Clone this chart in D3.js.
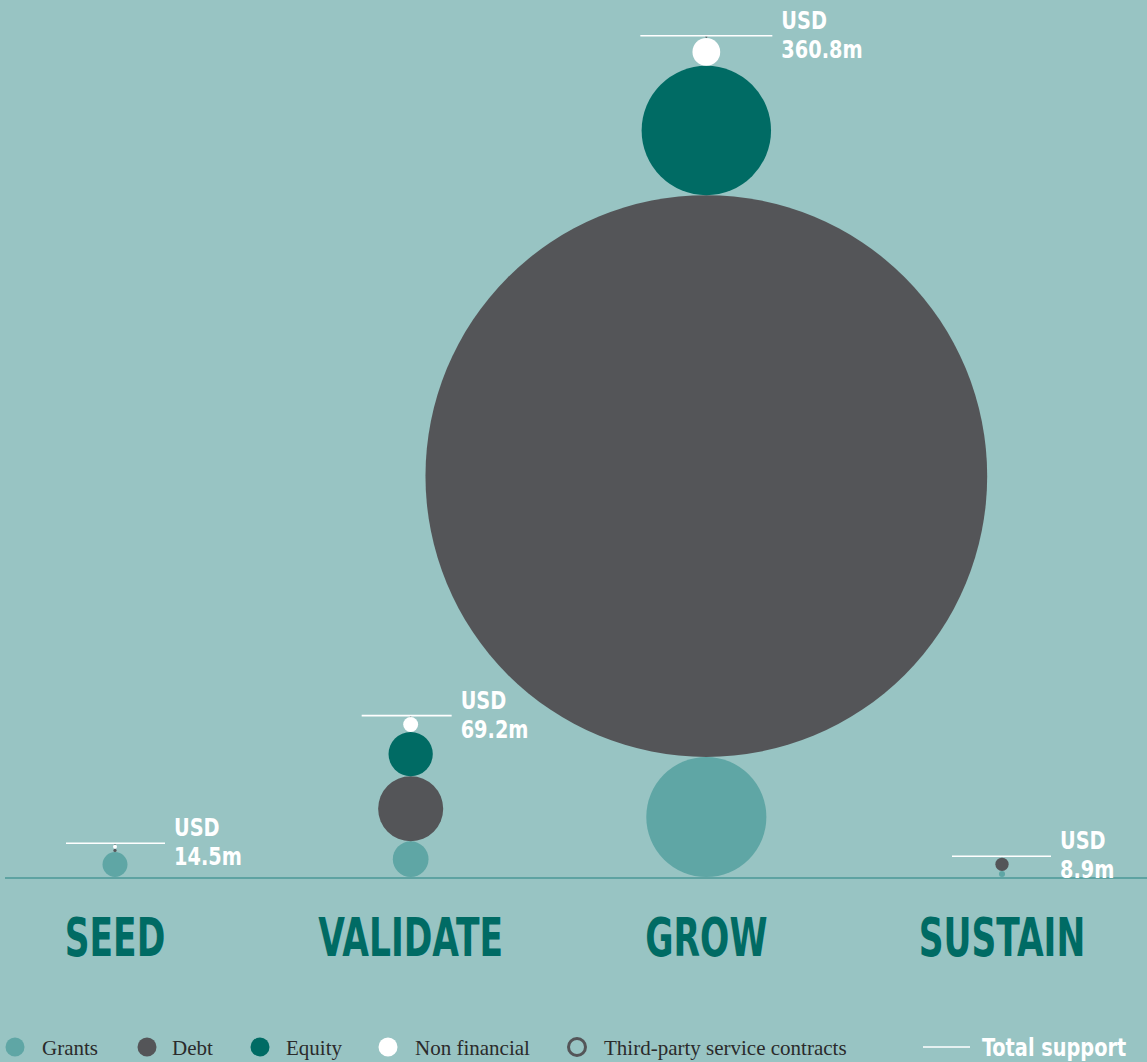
<!DOCTYPE html>
<html>
<head>
<meta charset="utf-8">
<script src="https://cdn.jsdelivr.net/npm/d3@7/dist/d3.min.js"></script>
<style>
  html, body { margin: 0; padding: 0; background: #98c4c3; }
  svg { display: block; }
</style>
</head>
<body>
<svg id="chart" width="1147" height="1062"></svg>
<script>
// Support by stage, USD millions
const stages = ["SEED", "VALIDATE", "GROW", "SUSTAIN"];
const totals = [14.5, 69.2, 360.8, 8.9];
const grants = [10.7, 15.3, 51.5, 2.6];
const debt = [1.4, 27.9, 240.9, 5.7];
const equity = [0, 19.0, 55.5, 0];
const nonFinancial = [1.7, 6.4, 11.9, 0.2];
const thirdParty = [0.7, 0.6, 1.0, 0.4];

const seriesKeys = ["Grants", "Debt", "Equity", "Non financial", "Third-party service contracts"];
const seriesValues = [grants, debt, equity, nonFinancial, thirdParty];
const totalLabel = "Total support";

// Styling
const colors = {
  "Grants": "#5fa6a5",
  "Debt": "#545558",
  "Equity": "#006b64",
  "Non financial": "#ffffff",
  "Third-party service contracts": "#545558"
};
const bg = "#98c4c3";
const condensed = "'Liberation Sans Narrow', 'Arial Narrow', 'DejaVu Sans Condensed', 'Roboto Condensed', sans-serif";
const serif = "'Liberation Serif', 'DejaVu Serif', serif";
const labelSqueeze = 0.86;  // horizontal compression for value labels
const stageSqueeze = 0.71;  // horizontal compression for stage names

// Layout
const W = 1147, H = 1062;
const baseY = 878;
const lineLeft = [49, 49, 66, 50];   // total-line extent left of stack centre
const lineRight = [50, 41, 66, 49];  // and right of it
const legendCircleX = [15, 147, 260, 388, 577];
const legendTextX = [42, 172, 286, 415, 604];
const legendY = 1047;

const svg = d3.select("#chart");
svg.append("rect").attr("width", W).attr("height", H).attr("fill", bg);

const x = d3.scalePoint().domain(stages).range([115, 1002]);
// diameters are linear in value; the stack of diameters reaches the total
const h = d3.scaleLinear().domain([0, d3.max(totals)]).range([0, 841.3]);

// rows for d3.stack
const rows = stages.map((s, i) => {
  const r = { stage: s };
  seriesKeys.forEach((k, j) => { r[k] = seriesValues[j][i]; });
  return r;
});
const stacked = d3.stack().keys(seriesKeys)(rows);

// baseline
svg.append("line")
  .attr("x1", 5).attr("x2", W)
  .attr("y1", baseY).attr("y2", baseY)
  .attr("stroke", "#5ea3a2").attr("stroke-width", 2);

// circles, stacked bottom to top
stacked.forEach(layer => {
  const key = layer.key;
  const ring = key === "Third-party service contracts";
  svg.append("g").selectAll("circle")
    .data(layer.filter(d => d[1] - d[0] > 0))
    .join("circle")
    .attr("cx", d => x(d.data.stage))
    .attr("cy", d => baseY - 1 - h((d[0] + d[1]) / 2))
    .attr("r", d => ring ? Math.max(h(d[1] - d[0]) / 2 - 0.5, 0.3) : h(d[1] - d[0]) / 2)
    .attr("fill", ring ? "none" : colors[key])
    .attr("stroke", ring ? colors[key] : "none")
    .attr("stroke-width", ring ? 1 : 0);
});

// total lines and value labels
const totalG = svg.append("g");
stages.forEach((s, i) => {
  const cx = x(s);
  const ty = baseY - 1 - h(totals[i]);
  totalG.append("line")
    .attr("x1", cx - lineLeft[i]).attr("x2", cx + lineRight[i])
    .attr("y1", ty).attr("y2", ty)
    .attr("stroke", "#ffffff").attr("stroke-width", 1.6);
  const t = totalG.append("text")
    .attr("transform", `translate(${cx + lineRight[i] + 9},${ty}) scale(${labelSqueeze},1)`)
    .attr("fill", "#ffffff")
    .attr("font-family", condensed)
    .attr("font-weight", "bold")
    .attr("font-size", 25);
  t.append("tspan").attr("x", 0).attr("y", -7).text("USD");
  t.append("tspan").attr("x", 0).attr("y", 22).text(d3.format(".1f")(totals[i]) + "m");
});

// stage labels
svg.append("g").selectAll("text")
  .data(stages)
  .join("text")
  .attr("transform", d => `translate(${x(d)},956) scale(${stageSqueeze},1)`)
  .attr("text-anchor", "middle")
  .attr("fill", "#006b64")
  .attr("font-family", condensed)
  .attr("font-weight", "bold")
  .attr("font-size", 54)
  .text(d => d);

// legend
const legend = svg.append("g");
seriesKeys.forEach((k, i) => {
  const ring = k === "Third-party service contracts";
  legend.append("circle")
    .attr("cx", legendCircleX[i]).attr("cy", legendY)
    .attr("r", ring ? 8.5 : 9.5)
    .attr("fill", ring ? "none" : colors[k])
    .attr("stroke", ring ? colors[k] : "none")
    .attr("stroke-width", ring ? 3 : 0);
  legend.append("text")
    .attr("x", legendTextX[i]).attr("y", legendY + 8)
    .attr("fill", "#2b2b2b")
    .attr("font-family", serif)
    .attr("font-size", 21)
    .text(k);
});
legend.append("line")
  .attr("x1", 923).attr("x2", 970)
  .attr("y1", legendY).attr("y2", legendY)
  .attr("stroke", "#ffffff").attr("stroke-width", 1.6);
legend.append("text")
  .attr("transform", `translate(982,${legendY + 9}) scale(${labelSqueeze},1)`)
  .attr("fill", "#ffffff")
  .attr("font-family", condensed)
  .attr("font-weight", "bold")
  .attr("font-size", 25)
  .text(totalLabel);
</script>
</body>
</html>
